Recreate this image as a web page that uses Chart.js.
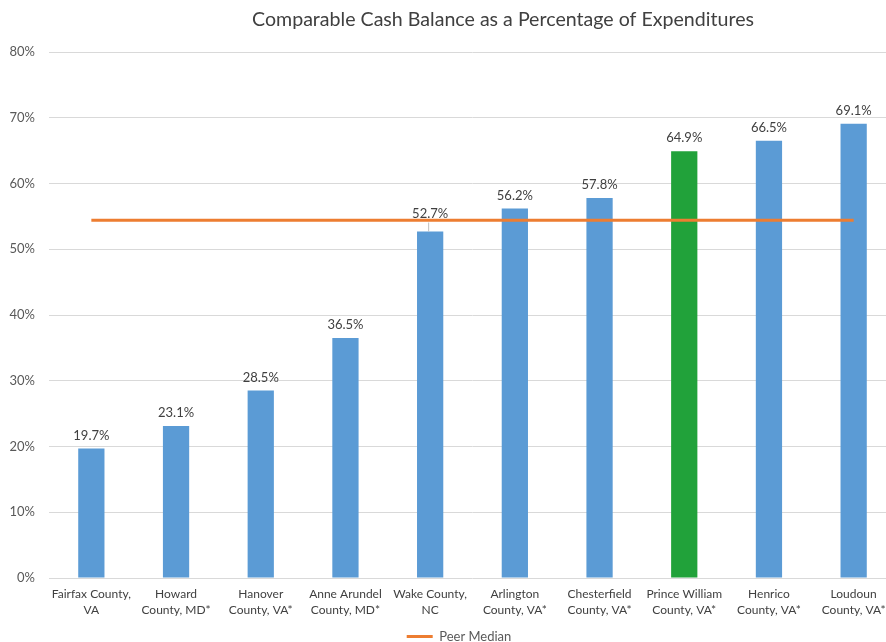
<!DOCTYPE html>
<html><head><meta charset="utf-8">
<script src="https://cdn.jsdelivr.net/npm/chart.js@4/dist/chart.umd.min.js"></script>
<style>
html,body{margin:0;padding:0;background:#fff;overflow:hidden;}
#wrap{width:886px;height:642px;overflow:hidden;position:relative;}
canvas{display:block;}
</style></head>
<body>
<div id="wrap"><canvas id="c" width="900" height="660"></canvas></div>
<script>
const categories = [
  ["Fairfax County,","VA"],
  ["Howard","County, MD*"],
  ["Hanover","County, VA*"],
  ["Anne Arundel","County, MD*"],
  ["Wake County,","NC"],
  ["Arlington","County, VA*"],
  ["Chesterfield","County, VA*"],
  ["Prince William","County, VA*"],
  ["Henrico","County, VA*"],
  ["Loudoun","County, VA*"]
];
const cashBalancePct = [19.7, 23.1, 28.5, 36.5, 52.7, 56.2, 57.8, 64.9, 66.5, 69.1];
const peerMedian = [54.4, 54.4, 54.4, 54.4, 54.4, 54.4, 54.4, 54.4, 54.4, 54.4];
const yTicks = [0, 10, 20, 30, 40, 50, 60, 70, 80];
const titleText = "Comparable Cash Balance as a Percentage of Expenditures";
const highlightIndex = 7;

const FONT = "Lato, 'Open Sans', sans-serif";
const barColors = cashBalancePct.map((v,i)=> i===highlightIndex ? '#21A23A' : '#5B9BD5');

const extrasPlugin = {
  id: 'extras',
  afterLayout(chart) {
    if (chart.legend) { chart.legend.left += 11; chart.legend.right += 11; }
  },
  afterDatasetsDraw(chart) {
    const ctx = chart.ctx;
    const meta = chart.getDatasetMeta(1);
    ctx.save();
    ctx.font = "13px " + FONT;
    ctx.fillStyle = '#404040';
    ctx.textAlign = 'center';
    ctx.textBaseline = 'middle';
    meta.data.forEach((bar, i) => {
      const lifted = (i === 4);
      const y = bar.y - (lifted ? 18 : 13);
      if (lifted) {
        ctx.strokeStyle = '#BFBFBF';
        ctx.lineWidth = 1;
        ctx.beginPath();
        ctx.moveTo(bar.x - 1.5, y + 9);
        ctx.lineTo(bar.x - 1.5, bar.y);
        ctx.stroke();
      }
      ctx.fillText(cashBalancePct[i].toFixed(1) + '%', bar.x, y);
    });
    ctx.restore();
  },
  afterDraw(chart) {
    const ctx = chart.ctx;
    ctx.save();
    ctx.font = "19.6px " + FONT;
    ctx.fillStyle = '#404040';
    ctx.textAlign = 'center';
    ctx.textBaseline = 'middle';
    ctx.fillText(titleText, 503, 20);
    ctx.restore();
  }
};

new Chart(document.getElementById('c'), {
  data: {
    labels: categories,
    datasets: [
      {
        type: 'line',
        label: 'Peer Median',
        data: peerMedian,
        borderColor: '#ED7D31',
        backgroundColor: '#ED7D31',
        borderWidth: 3,
        pointRadius: 0,
        pointStyle: 'line',
        order: 0
      },
      {
        type: 'bar',
        label: 'Cash Balance',
        data: cashBalancePct,
        backgroundColor: barColors,
        borderWidth: 0,
        barPercentage: 0.31,
        categoryPercentage: 1,
        order: 1
      }
    ]
  },
  options: {
    responsive: false,
    animation: false,
    layout: { padding: { top: 52, right: 4, left: 0, bottom: 7 } },
    plugins: {
      title: { display: false },
      tooltip: { enabled: false },
      legend: {
        position: 'bottom',
        labels: {
          filter: (item) => item.datasetIndex === 0,
          usePointStyle: true,
          pointStyleWidth: 26,
          font: { family: FONT, size: 13 },
          color: '#595959',
          padding: 10
        }
      }
    },
    scales: {
      x: {
        grid: { display: false, drawTicks: false },
        border: { display: false },
        ticks: {
          autoSkip: false, maxRotation: 0, minRotation: 0,
          font: { family: FONT, size: 12, lineHeight: 1.33 },
          color: '#404040',
          padding: 8
        },
        afterFit: (s) => { s.height = 42; }
      },
      y: {
        min: 0, max: 80,
        afterBuildTicks: (s) => { s.ticks = yTicks.map(v => ({ value: v })); },
        grid: { color: '#D9D9D9', lineWidth: 1, drawTicks: false },
        border: { display: false },
        ticks: {
          callback: (v) => v + '%',
          font: { family: FONT, size: 13 },
          color: '#595959',
          padding: 14
        },
        afterFit: (s) => { s.width = 49; }
      }
    }
  },
  plugins: [extrasPlugin]
});
</script>
</body></html>
